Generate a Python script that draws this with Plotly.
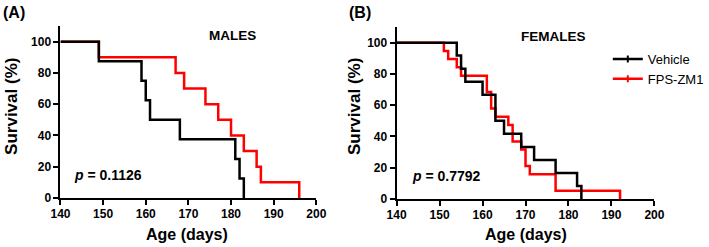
import plotly.graph_objects as go

# ---- data ----
male_vehicle_age = [140, 149, 159, 160, 161, 168, 181, 182, 183]
male_vehicle_surv = [100, 87.5, 75, 62.5, 50, 37.5, 25, 12.5, 0]

male_fps_age = [140, 149, 167, 169, 174, 177, 180, 183, 186, 187, 196]
male_fps_surv = [100, 90, 80, 70, 60, 50, 40, 30, 20, 10, 0]

female_vehicle_age = [140, 154, 155, 156, 160, 163, 165, 169, 172, 177, 182, 183]
female_vehicle_surv = [100, 91.7, 83.3, 75, 66.7, 50, 41.7, 33.3, 25, 16.7, 8.3, 0]

female_fps_age = [140, 151, 152, 154, 155, 161, 162, 163, 166, 167, 169, 170, 171, 177, 192]
female_fps_surv = [100, 94.7, 89.5, 84.2, 78.9, 68.4, 57.9, 52.6, 47.4, 36.8, 31.6, 21.1, 15.8, 5.3, 0]

x_ticks = [140, 150, 160, 170, 180, 190, 200]
y_ticks = [0, 20, 40, 60, 80, 100]

panel_labels = ["(A)", "(B)"]
panel_titles = ["MALES", "FEMALES"]
p_values = ["0.1126", "0.7792"]
series_names = ["Vehicle", "FPS-ZM1"]
x_title = "Age (days)"
y_title = "Survival (%)"

BLACK = "#000000"
RED = "#ff0000"
FONT = "Liberation Sans"

fig = go.Figure()

# red first so black is drawn on top
fig.add_trace(go.Scatter(x=male_fps_age, y=male_fps_surv, mode="lines", line_shape="hv",
                         line=dict(color=RED, width=2.5), showlegend=False, xaxis="x", yaxis="y"))
fig.add_trace(go.Scatter(x=male_vehicle_age, y=male_vehicle_surv, mode="lines", line_shape="hv",
                         line=dict(color=BLACK, width=2.5), showlegend=False, xaxis="x", yaxis="y"))
fig.add_trace(go.Scatter(x=female_fps_age, y=female_fps_surv, mode="lines", line_shape="hv",
                         line=dict(color=RED, width=2.5), showlegend=False, xaxis="x2", yaxis="y2"))
fig.add_trace(go.Scatter(x=female_vehicle_age, y=female_vehicle_surv, mode="lines", line_shape="hv",
                         line=dict(color=BLACK, width=2.5), showlegend=False, xaxis="x2", yaxis="y2"))

# legend entries (line with small tick, GraphPad style)
fig.add_trace(go.Scatter(x=[None], y=[None], mode="lines+markers", name=series_names[0], legendrank=1,
                         line=dict(color=BLACK, width=2.5),
                         marker=dict(symbol="line-ns-open", size=5, line=dict(color=BLACK, width=2)),
                         xaxis="x2", yaxis="y2"))
fig.add_trace(go.Scatter(x=[None], y=[None], mode="lines+markers", name=series_names[1], legendrank=2,
                         line=dict(color=RED, width=2.5),
                         marker=dict(symbol="line-ns-open", size=5, line=dict(color=RED, width=2)),
                         xaxis="x2", yaxis="y2"))

W, H = 709, 247

def px_x(v):
    return v / W

def px_y(v):
    return 1 - v / H

tickfont = dict(family=FONT, size=12, color=BLACK, weight="bold")

common_x = dict(range=[140, 200], tickvals=x_ticks, ticks="outside", ticklen=5, tickwidth=2,
                tickcolor=BLACK, showline=True, linecolor=BLACK, linewidth=2, showgrid=False,
                zeroline=False, tickfont=tickfont, automargin=False, ticklabelstandoff=-1)
common_y = dict(range=[0, 110], tickvals=y_ticks, ticks="outside", ticklen=5, tickwidth=2,
                tickcolor=BLACK, showline=True, linecolor=BLACK, linewidth=2, showgrid=False,
                zeroline=False, tickfont=tickfont, automargin=False)

fig.update_layout(
    width=W, height=H,
    margin=dict(l=0, r=0, t=0, b=0),
    paper_bgcolor="white", plot_bgcolor="white",
    xaxis=dict(domain=[px_x(61), px_x(319)], anchor="y", **common_x),
    yaxis=dict(domain=[px_y(198), px_y(26)], anchor="x", **common_y),
    xaxis2=dict(domain=[px_x(400), px_x(660)], anchor="y2", **common_x),
    yaxis2=dict(domain=[px_y(199), px_y(27)], anchor="x2", **common_y),
    legend=dict(x=px_x(613), y=px_y(44), xanchor="left", yanchor="top",
                font=dict(family=FONT, size=13, color=BLACK), bgcolor="rgba(0,0,0,0)",
                itemwidth=30, tracegroupgap=0, traceorder="normal"),
    showlegend=True,
)

annots = []
bold = lambda s: dict(family=FONT, size=s, color=BLACK, weight="bold")
# panel labels
for lab, xp in zip(panel_labels, [1, 350]):
    annots.append(dict(text=lab, x=px_x(xp), y=px_y(12), xref="paper", yref="paper",
                       xanchor="left", yanchor="middle", showarrow=False, font=bold(16)))
# axis titles
for xc in [189, 530]:
    annots.append(dict(text=x_title, x=px_x(xc), y=px_y(234), xref="paper", yref="paper",
                       xanchor="center", yanchor="middle", showarrow=False, font=bold(16)))
for xc in [11, 357]:
    annots.append(dict(text=y_title, x=px_x(xc), y=px_y(106), xref="paper", yref="paper",
                       xanchor="center", yanchor="middle", textangle=-90, showarrow=False,
                       font=bold(17)))
# panel titles
annots.append(dict(text=panel_titles[0], x=180.3, y=104, xref="x", yref="y", showarrow=False,
                   font=bold(13.5)))
annots.append(dict(text=panel_titles[1], x=176.5, y=104, xref="x2", yref="y2", showarrow=False,
                   font=bold(13.5)))
# p values
annots.append(dict(text="<i>p</i> = " + p_values[0], x=142.8, y=14.7, xref="x", yref="y",
                   xanchor="left", showarrow=False, font=bold(14)))
annots.append(dict(text="<i>p</i> = " + p_values[1], x=143, y=14.6, xref="x2", yref="y2",
                   xanchor="left", showarrow=False, font=bold(14)))
fig.update_layout(annotations=annots)

fig.write_html("out.html", config={"displayModeBar": False},
               post_script="document.body.style.margin='0';")
